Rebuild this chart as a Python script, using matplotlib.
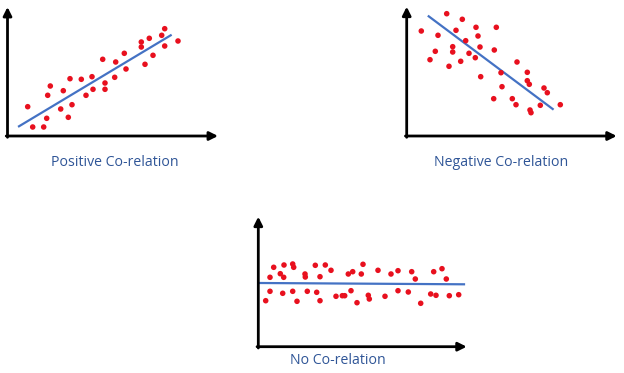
import matplotlib
matplotlib.use("Agg")
import matplotlib.pyplot as plt

# Panel 1: Positive correlation (x, y relative to axis origin)
pos_x = [20.2, 25.2, 36.2, 39.2, 40.2, 42.8, 53.2, 55.8, 60.8, 64.5, 62.5, 73.8, 78.5, 84.5, 85.5,
         95.2, 97.5, 97.5, 107.2, 108.2, 116.8, 118.5, 133.8, 133.8, 137.5, 141.8, 145.5, 154.2,
         157.2, 157.2, 170.5]
pos_y = [29.3, 9, 9, 17.7, 40.7, 50, 27, 45.3, 18.7, 31.3, 57.3, 56.7, 40.7, 59.3, 46.7,
         76.7, 53, 46.7, 58.7, 74, 82.7, 67, 94, 89, 71.7, 97.7, 80.7, 100.7,
         107.3, 90, 95]
pos_line_x = [11.5, 163.2]
pos_line_y = [9.7, 100.7]

# Panel 2: Negative correlation
neg_x = [14.6, 23.3, 28.6, 31.3, 40, 42.3, 46, 46, 49.3, 54, 55.6, 59, 62.3, 68.6, 69.3, 71.3,
         73.3, 74, 87, 87.6, 89.6, 94.3, 95.3, 105.6, 109.3, 110.3, 120.6, 120.6, 122.6, 123.3,
         124.3, 133.6, 137.3, 140.6, 153.6]
neg_y = [105, 76.3, 84.7, 100.7, 122.3, 69.7, 89.3, 84, 105.7, 74.7, 116.7, 95.3, 82.7, 78.3,
         108.7, 100, 89, 59.3, 37.3, 86, 108.7, 63.3, 49.3, 37.3, 31.3, 74, 63.7, 55.3, 51.7,
         26, 23.3, 30.7, 48, 43.3, 31.3]
neg_line_x = [22, 146]
neg_line_y = [119.7, 27]

# Panel 3: No correlation
no_x = [7.4, 11.7, 11.7, 15.4, 22, 24.4, 25.4, 25.7, 34.4, 35.4, 34.4, 38.7, 46.7, 47, 49, 57,
        58.4, 61.7, 61.7, 67, 72.7, 77.7, 84, 86.4, 90, 92.7, 94.4, 98.7, 103, 104.7, 110, 111,
        119.7, 126.7, 132.7, 139.7, 139.7, 150, 153.4, 157, 162.4, 172.4, 175.4, 177.7, 183.7,
        188, 191, 200.4]
no_y = [46, 69.4, 55.4, 79.4, 73, 53.4, 69.4, 81.7, 82.7, 79.4, 55.4, 45.4, 72.7, 69.7, 55.4,
        81.4, 54.4, 70, 46, 81.7, 76.4, 50.4, 51, 51, 72.7, 56, 75, 44, 72.7, 82.4, 51.4, 47.7,
        76.4, 50.4, 72.7, 76, 56, 54.7, 75, 67.7, 43.4, 52.7, 75, 51.4, 78, 67.7, 51, 52]
no_line_x = [1.7, 205.7]
no_line_y = [63.7, 62.4]

titles = ["Positive Co-relation", "Negative Co-relation", "No Co-relation"]

W, H = 624, 373
fig = plt.figure(figsize=(W / 100, H / 100), dpi=100)
fig.patch.set_facecolor("white")

# panel frames in pixels: origin x, origin y (from top), width, height
frames = [(7.5, 136, 210.5, 129), (406.7, 136, 210, 129.3), (258.3, 346.7, 208.4, 130)]
title_pos = [(115, 162), (501, 162), (338, 361)]
data = [(pos_x, pos_y, pos_line_x, pos_line_y),
        (neg_x, neg_y, neg_line_x, neg_line_y),
        (no_x, no_y, no_line_x, no_line_y)]

RED = "#E8101E"
BLUE = "#4472C4"
TXT = "#2F5597"

for (ox, oy, w, h), (xs, ys, lx, ly), title, (tx, ty) in zip(frames, data, titles, title_pos):
    ax = fig.add_axes([ox / W, 1 - oy / H, w / W, h / H])
    ax.set_xlim(0, w)
    ax.set_ylim(0, h)
    ax.axis("off")
    ax.plot(lx, ly, color=BLUE, lw=1.6, zorder=2)
    ax.scatter(xs, ys, s=16, color=RED, edgecolors="none", zorder=3)
    ax.annotate("", xy=(1, 0), xytext=(-0.006, 0), xycoords="axes fraction",
                arrowprops=dict(arrowstyle="-|>,head_length=0.5,head_width=0.25",
                                color="black", lw=2.0, shrinkA=0, shrinkB=0),
                annotation_clip=False)
    ax.annotate("", xy=(0, 1), xytext=(0, -0.01), xycoords="axes fraction",
                arrowprops=dict(arrowstyle="-|>,head_length=0.5,head_width=0.25",
                                color="black", lw=2.0, shrinkA=0, shrinkB=0),
                annotation_clip=False)
    fig.text(tx / W, 1 - ty / H, title, ha="center", va="center",
             color=TXT, fontsize=10.2, family="Open Sans")

fig.savefig("out.png", dpi=100, facecolor="white")
